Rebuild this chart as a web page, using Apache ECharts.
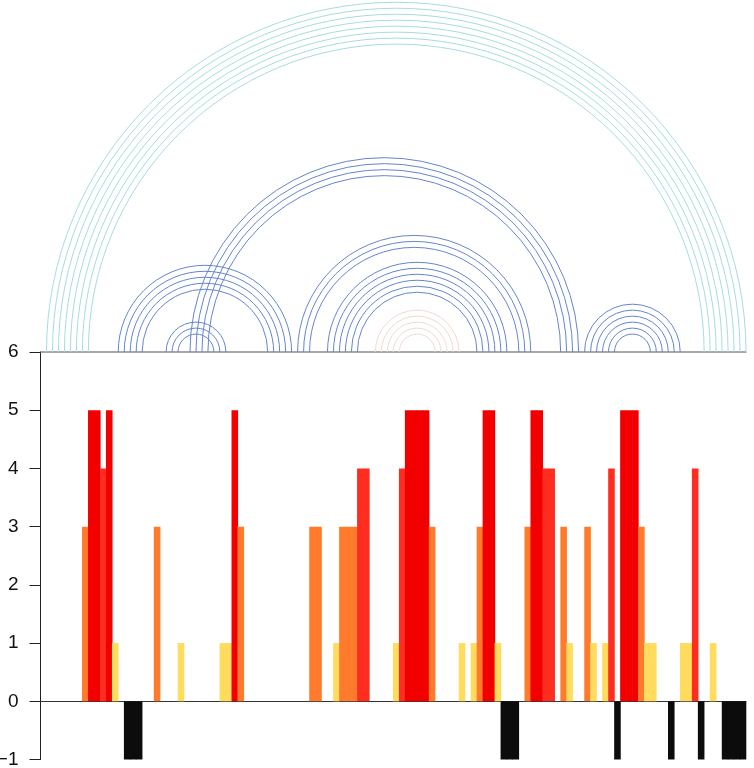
<!DOCTYPE html>
<html>
<head>
<meta charset="utf-8">
<script src="https://cdn.jsdelivr.net/npm/echarts@6/dist/echarts.min.js"></script>
<style>
  html, body { margin: 0; padding: 0; background: #fff; }
  #chart { width: 754px; height: 768px; }
</style>
</head>
<body>
<div id="chart"></div>
<script>
// sequence positions 1..118
const positions = Array.from({ length: 118 }, (_, i) => String(i + 1));

// bar value per position
const values = [
    0, 0, 0, 0, 0, 0, 0, 3, 5, 5,
    4, 5, 1, 0, -1, -1, -1, 0, 0, 3,
    0, 0, 0, 1, 0, 0, 0, 0, 0, 0,
    1, 1, 5, 3, 0, 0, 0, 0, 0, 0,
    0, 0, 0, 0, 0, 3, 3, 0, 0, 1,
    3, 3, 3, 4, 4, 0, 0, 0, 0, 1,
    4, 5, 5, 5, 5, 3, 0, 0, 0, 0,
    1, 0, 1, 3, 5, 5, 1, -1, -1, -1,
    0, 3, 5, 5, 4, 4, 0, 3, 1, 0,
    0, 3, 1, 0, 1, 4, -1, 5, 5, 5,
    3, 1, 1, 0, 0, -1, 0, 1, 1, 4,
    -1, 0, 1, 0, -1, -1, -1, -1,
];

const yTicks = [-1, 0, 1, 2, 3, 4, 5, 6];

// arcs: [i, j] base pairs
const cyanArcs = [[1, 118], [2, 117], [3, 116], [4, 115], [5, 114], [6, 113], [7, 112], [8, 111]];
const blueArcs = [
    [13, 42], [14, 41], [15, 40], [16, 39], [17, 38],
    [21, 31], [22, 30], [23, 29],
    [25, 90], [26, 89], [27, 88], [28, 87],
    [43, 82], [44, 81], [45, 80],
    [48, 78], [49, 77], [50, 76], [51, 75], [52, 74], [53, 73],
    [91, 107], [92, 106], [93, 105], [94, 104], [95, 103], [96, 102],
];
const pinkArcs = [[56, 70], [57, 69], [58, 68], [59, 67], [60, 66]];

const barColor = (v) => {
    if (v >= 5) return '#f20000';
    if (v >= 4) return '#ff2d1f';
    if (v >= 3) return '#ff7a2b';
    if (v >= 1) return '#ffdb5e';
    return '#0c0c0c';
};

const arcSeries = (pairs, color) => ({
    type: 'custom',
    xAxisIndex: 1,
    yAxisIndex: 0,
    clip: false,
    silent: true,
    data: pairs,
    renderItem: (params, api) => {
        const a = api.coord([api.value(0), 6]);
        const b = api.coord([api.value(1), 6]);
        return {
            type: 'arc',
            shape: {
                cx: (a[0] + b[0]) / 2,
                cy: a[1],
                r: Math.abs(b[0] - a[0]) / 2,
                startAngle: Math.PI,
                endAngle: Math.PI * 2,
                clockwise: true,
            },
            style: { stroke: color, fill: null, lineWidth: 1 },
        };
    },
});

// bars drawn as touching rects (tiny overlap hides seams)
const barSeries = {
    type: 'custom',
    xAxisIndex: 0,
    yAxisIndex: 0,
    silent: true,
    data: values.map((v, i) => [i, v]).filter((d) => d[1] !== 0),
    renderItem: (params, api) => {
        const v = api.value(1);
        const top = api.coord([api.value(0), v]);
        const base = api.coord([api.value(0), 0]);
        const w = api.size([1, 0])[0];
        return {
            type: 'rect',
            shape: {
                x: top[0] - w / 2 - 0.3,
                y: Math.min(top[1], base[1]),
                width: w + 0.6,
                height: Math.abs(base[1] - top[1]),
            },
            style: { fill: barColor(v) },
        };
    },
};

const chart = echarts.init(document.getElementById('chart'));

chart.setOption({
    animation: false,
    backgroundColor: '#fff',
    grid: { left: 40.5, right: 8, top: 352, bottom: 8.5, containLabel: false, outerBoundsMode: 'none' },
    xAxis: [
        {
            type: 'category',
            data: positions,
            axisLine: { show: true, onZero: true, lineStyle: { color: '#333', width: 1 } },
            axisTick: { show: false },
            axisLabel: { show: false },
            splitLine: { show: false },
        },
        {
            type: 'value',
            min: 0,
            max: positions.length,
            position: 'top',
            axisLine: { show: true, onZero: false, lineStyle: { color: '#8c8c8c', width: 1.5 } },
            axisTick: { show: false },
            axisLabel: { show: false },
            splitLine: { show: false },
        },
    ],
    yAxis: {
        type: 'value',
        min: yTicks[0],
        max: yTicks[yTicks.length - 1],
        interval: 1,
        axisLine: { show: true, lineStyle: { color: '#222', width: 1 } },
        axisTick: { show: true, length: 11, lineStyle: { color: '#222', width: 1 } },
        axisLabel: {
            margin: 22,
            fontSize: 19,
            color: '#111',
            fontFamily: 'Liberation Sans, Arial, sans-serif',
            formatter: (v) => (v < 0 ? '\u2212' + Math.abs(v) : String(v)),
        },
        splitLine: { show: false },
    },
    series: [
        barSeries,
        arcSeries(cyanArcs, '#a6dce4'),
        arcSeries(blueArcs, '#6585cf'),
        arcSeries(pinkArcs, '#f5d8cf'),
    ],
});
</script>
</body>
</html>
